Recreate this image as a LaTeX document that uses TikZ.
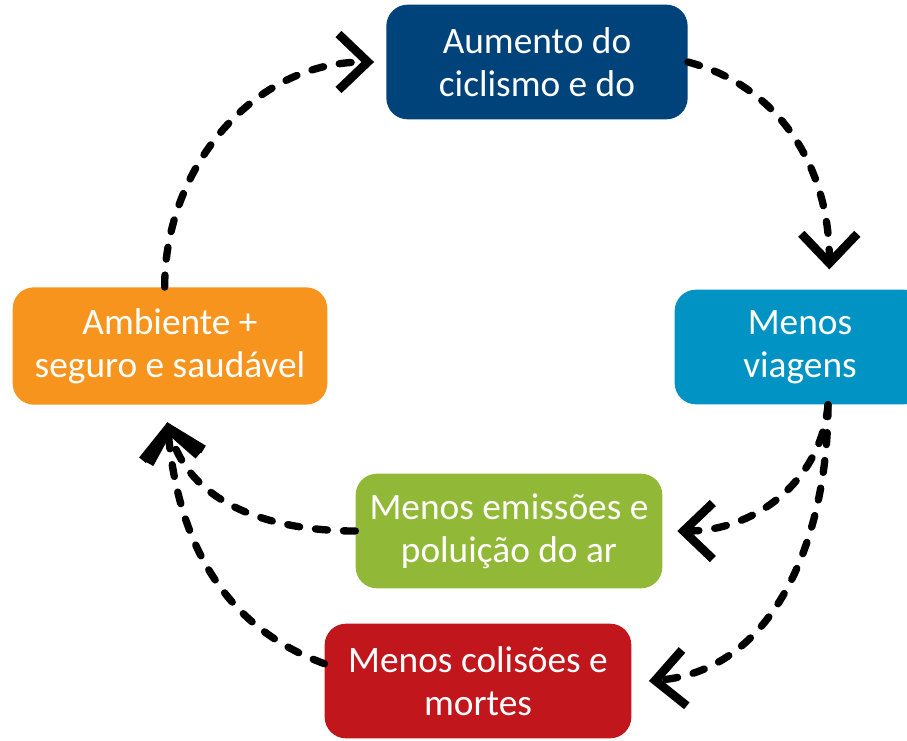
\documentclass[tikz,border=0pt]{standalone}
\usepackage{fontspec}
\setmainfont{Carlito}
\usepackage{xcolor}
\usetikzlibrary{arrows.meta}
\usetikzlibrary{positioning}

\definecolor{azulEscuro}{RGB}{0,66,122}
\definecolor{azulClaro}{RGB}{0,147,196}
\definecolor{laranja}{RGB}{247,148,29}
\definecolor{verde}{RGB}{145,185,55}
\definecolor{vermelho}{RGB}{193,22,28}

\tikzset{
  caixa/.style={rounded corners=16pt, text=white, align=center, inner sep=0pt,
    font=\fontsize{28}{32}\selectfont, minimum width=230pt, minimum height=86pt},
  fluxo/.style={line width=5.5pt, line cap=round, dash pattern=on 9pt off 12pt,
    -{Straight Barb[length=22pt,width=42pt,line width=6.5pt]}}
}

\begin{document}
\begin{tikzpicture}[x=0.75pt,y=-0.75pt]
    \clip (0,0) rectangle (907,740);

    \node[caixa, fill=azulEscuro, minimum width=226pt] (aumento) at (537,62) {Aumento do\\ciclismo e do};
    \node[caixa, fill=azulClaro, minimum width=188pt] (viagens) at (800,347) {Menos\\viagens};
    \node[caixa, fill=laranja, minimum width=236pt, minimum height=88pt] (ambiente) at (170,346) {Ambiente +\\seguro e saudável};
    \node[caixa, fill=verde] (emissoes) at (509,531) {Menos emissões e\\poluição do ar};
    \node[caixa, fill=vermelho] (colisoes) at (478,681) {Menos colisões e\\mortes};

    \draw [fluxo] ([xshift=-4pt]ambiente.north) to[out=90,in=180] ([xshift=-9pt]aumento.west);
    \draw [fluxo] (aumento.east) to[out=-15,in=90] ([xshift=22pt,yshift=15pt]viagens.north);
    \draw [fluxo] ([xshift=21pt]viagens.south) to[out=-95,in=0] ([xshift=11pt]emissoes.east);
    \draw [fluxo] ([xshift=21pt]viagens.south) to[out=-90,in=5] ([xshift=13pt]colisoes.east);
    \draw [fluxo] (emissoes.west) to[out=180,in=-75] ([xshift=-2pt,yshift=-13pt]ambiente.south);
    \draw [fluxo] ([yshift=13pt]colisoes.west) to[out=160,in=-85] ([xshift=-2pt,yshift=-13pt]ambiente.south);
  \end{tikzpicture}
\end{document}
